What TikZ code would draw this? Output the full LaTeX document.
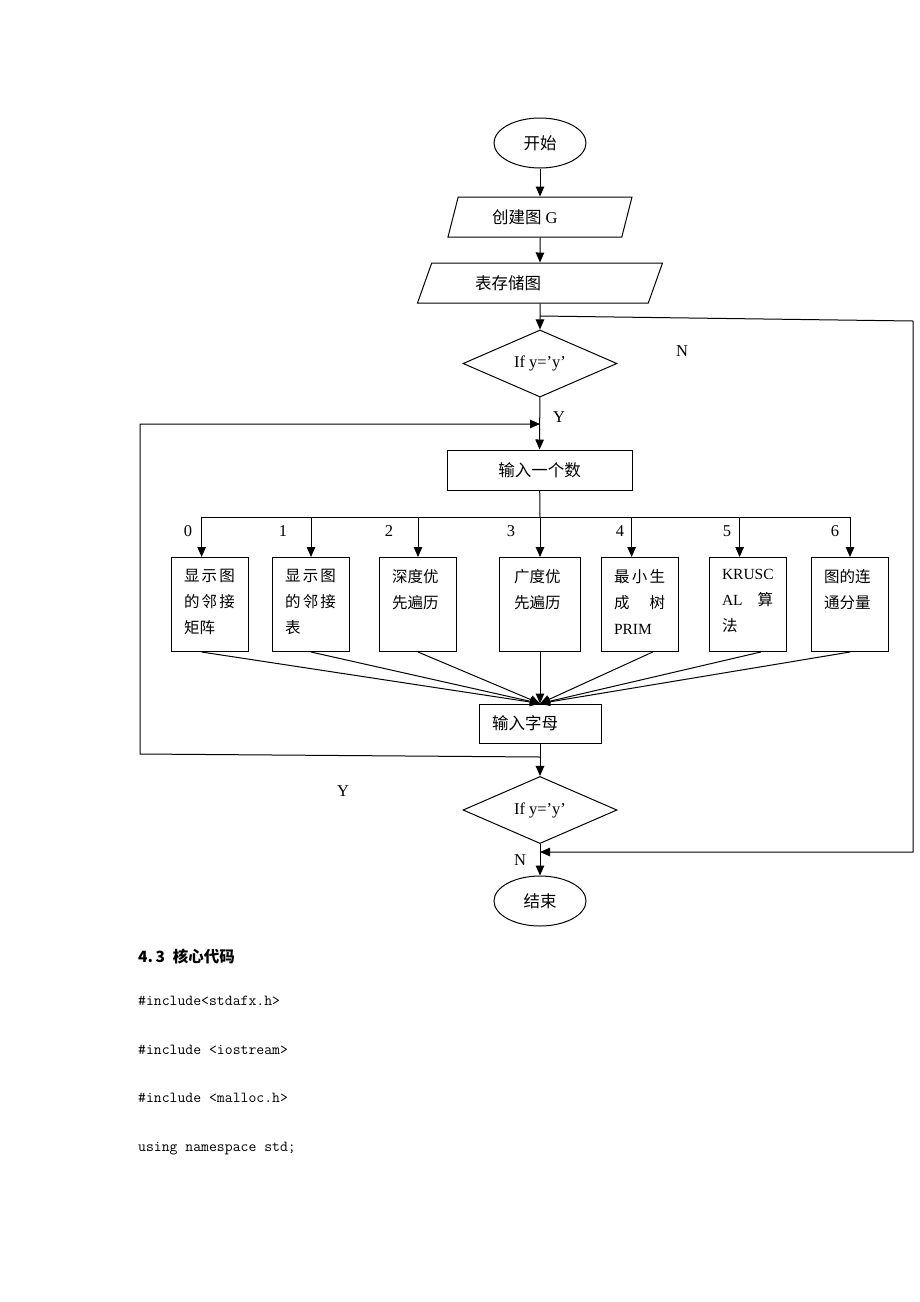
\documentclass[tikz,border=0pt]{standalone}
\usepackage{fontspec}
\setmainfont{Liberation Serif}
\newfontfamily\cjk{Noto Sans CJK SC}
\usetikzlibrary{arrows.meta,shapes.geometric}

\newcommand\cell[1]{\parbox[t][78pt][t]{52pt}{\vspace*{4pt}\fontsize{15.5}{26}\selectfont #1}}
\newcommand\spr[1]{\makebox[51pt][s]{#1}}

\tikzset{
  line/.style={line width=1pt},
  arr/.style={line width=1pt,-{Triangle[length=10pt,width=8.5pt]}},
  term/.style={draw,line width=1pt,ellipse,minimum width=92pt,minimum height=50pt,
    font=\fontsize{16.5}{19}\selectfont},
  io/.style={draw,line width=1pt,trapezium,trapezium stretches body,minimum height=40pt,
    font=\fontsize{16.5}{19}\selectfont},
  dec/.style={draw,line width=1pt,diamond,minimum width=154pt,inner sep=0pt,
    font=\fontsize{16.5}{19}\selectfont},
  proc/.style={draw,line width=1pt,rectangle,minimum height=40pt,
    font=\fontsize{16.5}{19}\selectfont},
  opbox/.style={draw,line width=1pt,inner xsep=12.5pt,inner ysep=8pt,anchor=north west},
  tag/.style={font=\fontsize{16.5}{19}\selectfont},
  code/.style={anchor=base west,inner sep=0pt,font=\fontsize{15.3}{15.3}\selectfont\ttfamily}
}

\begin{document}
\begin{tikzpicture}[x=1pt,y=-1pt]
\useasboundingbox (0,0) rectangle (920,1302);

% main column
\node[term] (start) at (540,143) {{\cjk 开始}};
\node[io,trapezium left angle=65,trapezium right angle=115,minimum width=184pt] (build) at (540,217)
  {\makebox[96pt][l]{{\cjk 创建图} G}};
\node[io,trapezium left angle=57,trapezium right angle=123,minimum width=245pt] (store) at (540,283)
  {\makebox[130pt][l]{\cjk 表存储图}};
\node[dec,minimum height=67pt] (ask1) at (540,363.5) {If y=’y’};
\node[proc,minimum width=185pt] (numIn) at (539.5,470) {{\cjk 输入一个数}};
\node[proc,minimum width=122pt,minimum height=39pt] (letIn) at (540,723.5)
  {\makebox[96pt][l]{\cjk 输入字母}};
\node[dec,minimum height=60pt] (ask2) at (540,810) {If y=’y’};
\node[term] (stop) at (540,901) {{\cjk 结束}};

% operation boxes
\node[opbox] (b0) at (171,557) {\cell{\cjk\spr{显\hfill 示\hfill 图}\\\spr{的\hfill 邻\hfill 接}\\矩阵}};
\node[opbox] (b1) at (272,557) {\cell{\cjk\spr{显\hfill 示\hfill 图}\\\spr{的\hfill 邻\hfill 接}\\表}};
\node[opbox] (b2) at (379,557) {\cell{\cjk 深度优\\先遍历}};
\node[opbox,minimum width=81pt] (b3) at (499,557) {\cell{\cjk 广度优\\先遍历}};
\node[opbox] (b4) at (601,557) {\cell{\cjk\spr{最\hfill 小\hfill 生}\\\spr{成\hfill 树}\\\rmfamily PRIM}};
\node[opbox] (b5) at (709,557) {\cell{KRUSC\\\spr{AL\hfill{\cjk 算}}\\{\cjk 法}}};
\node[opbox] (b6) at (811,557) {\cell{\cjk 图的连\\通分量}};

% branch numbers
\node[tag] (n0) at (188,531) {0};
\node[tag] (n1) at (283,531) {1};
\node[tag] (n2) at (389,531) {2};
\node[tag] (n3) at (511,531) {3};
\node[tag] (n4) at (620,531) {4};
\node[tag] (n5) at (727,531) {5};
\node[tag] (n6) at (835,531) {6};

% Y / N marks
\node[tag] (noA) at (682,351) {N};
\node[tag] (yesA) at (559,417) {Y};
\node[tag] (yesB) at (343,791) {Y};
\node[tag] (noB) at (520,860) {N};

% main flow
\draw[arr] (start) -- (build);
\draw[arr] (build) -- (store);
\draw[arr] (store) -- (ask1);
\draw[arr] (ask1) -- (numIn);
\draw[arr] (letIn) -- (ask2);
\draw[arr] (ask2) -- (stop);

% bus to the boxes
\coordinate (bus) at (540,517);
\draw[line] (numIn) -- (bus);
\draw[line] (b0.100 |- bus) -- (b6.north |- bus);
\foreach \i/\t in {0/100,1/90,2/90,3/90,4/100,5/100,6/90}
  \draw[arr] (b\i.\t |- bus) -- (b\i.\t);

% boxes back to letIn
\foreach \i/\s in {0/-100,1/-90,2/-90,3/-90,4/-75,5/-75,6/-90}
  \draw[arr] (b\i.\s) -- (letIn.north);

% N loop on the right
\coordinate (nOut) at (540,316);
\coordinate (nCorner1) at (913,321);
\coordinate (nCorner2) at (913,852);
\coordinate (nIn) at (540,852);
\draw[arr] (nOut) -- (nCorner1) -- (nCorner2) -- (nIn);

% Y loop on the left
\coordinate (yOut) at (540,757);
\coordinate (yCorner1) at (140,754);
\coordinate (yCorner2) at (140,424);
\coordinate (yIn) at (540,424);
\draw[arr] (yOut) -- (yCorner1) -- (yCorner2) -- (yIn);

% text below
\node[anchor=base west,inner sep=0pt,font=\fontsize{15.5}{15.5}\selectfont\cjk\bfseries] (head) at (138,962)
  {4.\,3\enspace 核心代码};
\node[code] (inc1) at (138,1005) {\#include<stdafx.h>};
\node[code] (inc2) at (138,1054) {\#include <iostream>};
\node[code] (inc3) at (138,1102) {\#include <malloc.h>};
\node[code] (useStd) at (138,1151) {using namespace std;};
\end{tikzpicture}
\end{document}
